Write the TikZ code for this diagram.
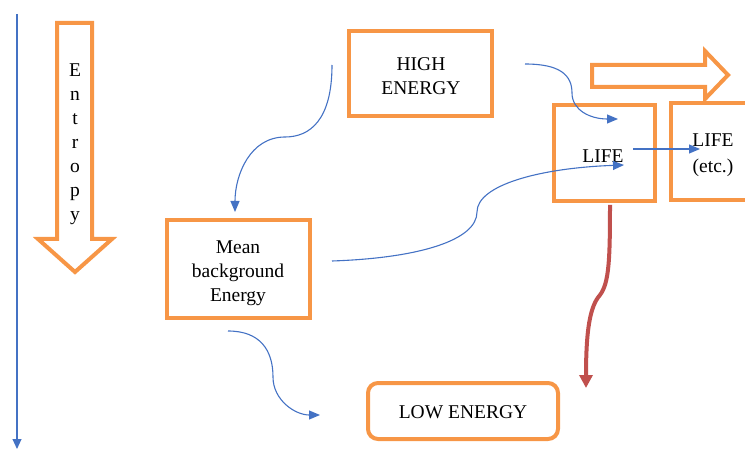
\documentclass[tikz,border=0pt]{standalone}
\usepackage{fontspec}
\setmainfont{Liberation Serif}
\usetikzlibrary{arrows.meta}
\definecolor{orng}{HTML}{F79646}
\definecolor{blu}{HTML}{4472C4}
\definecolor{rd}{HTML}{C0504D}
\begin{document}
\begin{tikzpicture}[x=1pt,y=-1pt,
  box/.style={draw=orng,line width=4pt,inner sep=0pt},
  txt/.style={align=center,inner sep=0pt,font=\fontsize{19.5}{24}\selectfont},
  conn/.style={draw=blu,line width=1.1pt,-{Triangle[length=11pt,width=9pt]}},
  bigarrow/.style={draw=orng,line width=4pt,line join=miter}]
\useasboundingbox (0,0) rectangle (745,449);
\clip (0,0) rectangle (745,449);
% entropy axis
\coordinate (axtop) at (17,14);
\coordinate (axbot) at (17,449);
\draw[draw=blu,line width=1.1pt,-{Triangle[length=10pt,width=9pt]}] (axtop) -- (axbot);
% entropy arrow
\draw[bigarrow] (57,23) -- (92,23) -- (92,239) -- (112,239) -- (75,272) -- (38,239) -- (57,239) -- cycle;
\node[txt] (entropy) at (75,144) {E\\n\\t\\r\\o\\p\\y};
% right arrow
\draw[bigarrow] (592,65) -- (705,65) -- (705,51) -- (728,75) -- (705,99) -- (705,87) -- (592,87) -- cycle;
% boxes
\node[box,minimum width=143pt,minimum height=85pt] (high) at (420.5,73.5) {};
\node[txt] (hightxt) at (421,76.5) {HIGH\\ENERGY};
\node[box,minimum width=143pt,minimum height=98pt] (mean) at (238.5,269) {};
\node[txt] (meantxt) at (238,273) {Mean\\background\\Energy};
\node[box,rounded corners=10pt,minimum width=190pt,minimum height=56pt] (low) at (463,411) {};
\node[txt] (lowtxt) at (463,412) {LOW ENERGY};
\node[box,minimum width=101pt,minimum height=96pt] (life) at (604.5,153) {};
\node[txt] (lifetxt) at (603,156) {LIFE};
\node[box,minimum width=84pt,minimum height=97pt] (life2) at (713,151.5) {};
\node[txt,font=\fontsize{19.5}{26}\selectfont] (life2txt) at (713,155) {LIFE\\(etc.)};
% connectors
\coordinate (a1) at (332,65);
\coordinate (a1e) at (235,212);
\draw[conn] (a1) .. controls (332,120) and (310,137) .. (285,137) .. controls (250,137) and (235,175) .. (a1e);
\coordinate (a2) at (525,64);
\coordinate (a2e) at (618,119);
\draw[conn] (a2) .. controls (560,64) and (572,75) .. (572,93) .. controls (572,110) and (590,119) .. (a2e);
\coordinate (a3) at (332,261);
\coordinate (a3e) at (624,165);
\draw[conn] (a3) .. controls (420,258) and (477,240) .. (477,212) .. controls (477,185) and (540,168) .. (a3e);
\coordinate (a4) at (633,149);
\coordinate (a4e) at (700,149);
\draw[conn] (a4) -- (a4e);
\coordinate (a5) at (228,331);
\coordinate (a5e) at (320,415);
\draw[conn] (a5) .. controls (260,331) and (273,350) .. (273,377) .. controls (273,400) and (295,415) .. (a5e);
\coordinate (r1) at (610,205);
\coordinate (r1e) at (586,388);
\draw[draw=rd,line width=4pt,-{Triangle[length=13pt,width=13pt]}] (r1) .. controls (610,260) and (609,283) .. (600,295) .. controls (590,306) and (586,330) .. (r1e);
\end{tikzpicture}
\end{document}
